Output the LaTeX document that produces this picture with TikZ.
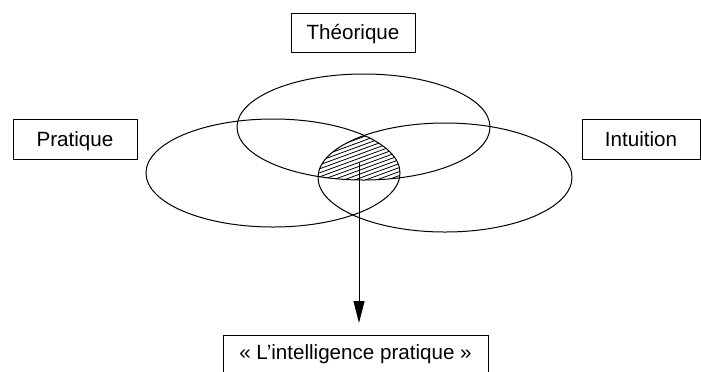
\documentclass[tikz,border=0pt]{standalone}
\usepackage{fontspec}
\setmainfont{Liberation Sans}
\usetikzlibrary{arrows.meta,positioning}

\begin{document}
\begin{tikzpicture}[x=0.5pt,y=-0.5pt,line width=0.5pt,
  every node/.style={font=\fontsize{10.3}{12}\selectfont},
  lbl/.style={draw,inner sep=0pt,minimum height=20pt,text height=0.9em,text depth=0.18em},
  hatch/.style={line width=0.4pt},
  arr/.style={-{Triangle[length=11pt,width=5.5pt]},shorten >=6pt}]
\useasboundingbox (0,0) rectangle (701,371);
\coordinate (ctheo) at (363.5,127);
\coordinate (cprat) at (273,173);
\coordinate (cintu) at (445,177.5);
\begin{scope}
  \clip (ctheo) ellipse [x radius=126.5,y radius=53];
  \clip (cprat) ellipse [x radius=127,y radius=54];
  \clip (cintu) ellipse [x radius=127,y radius=54.5];
  \foreach \k in {0,...,28}
    \draw[hatch] (300,116+4*\k) -- ++(120,-44);
\end{scope}
\draw (ctheo) ellipse [x radius=126.5,y radius=53];
\draw (cprat) ellipse [x radius=127,y radius=54];
\draw (cintu) ellipse [x radius=127,y radius=54.5];
\node[lbl,minimum width=62pt,minimum height=19.5pt] (theo) at (353,32.5) {Théorique};
\node[lbl,minimum width=62pt] (prat) at (75,139) {Pratique};
\node[lbl,minimum width=59pt] (intu) at (641,139) {Intuition};
\node[lbl,minimum width=132.5pt,text depth=0.55em,anchor=north] (intel) at (355.5,335)
  {« L’intelligence pratique »};
\coordinate (hit) at (359,163);
\draw[arr] (hit) -- (hit |- intel.north);
\end{tikzpicture}
\end{document}
